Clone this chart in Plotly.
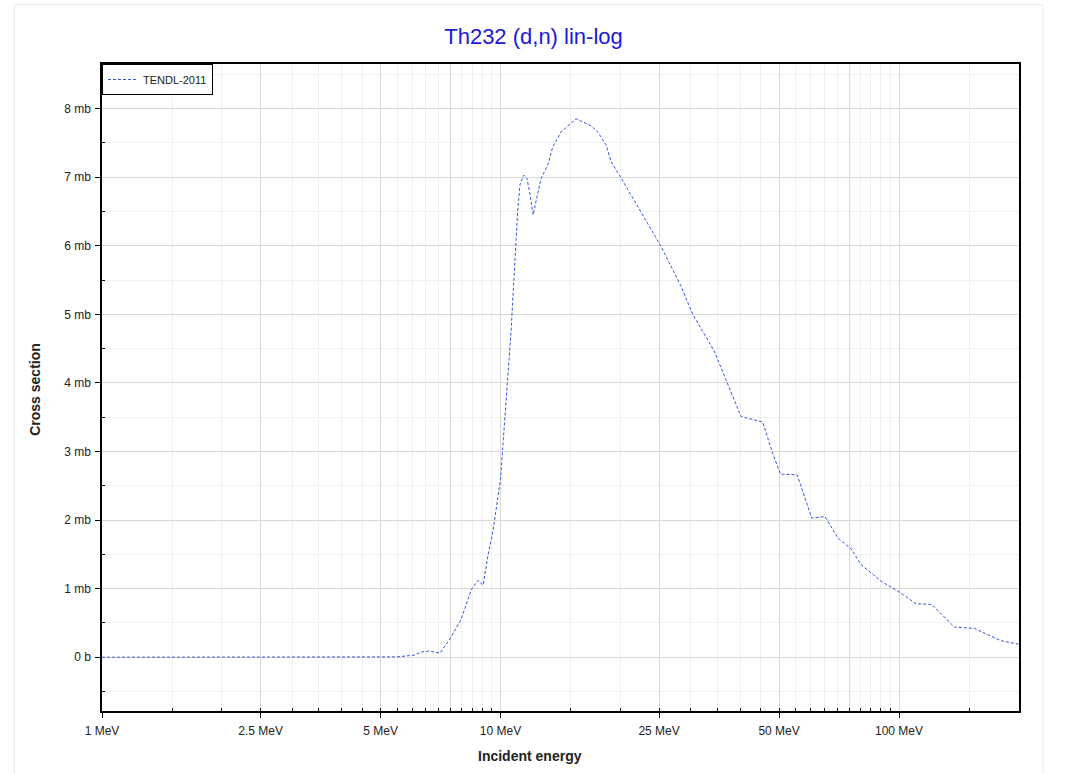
import plotly.graph_objects as go

# Data (incident energy in MeV, cross section in mb)
energy_mev = [1.0, 2.0, 3.0, 4.0, 5.0, 5.5, 6.07, 6.32, 6.62, 7.05, 7.51, 7.96, 8.44, 8.78,
              9.04, 9.30, 9.58, 10.0, 10.63, 10.94, 11.04, 11.19, 11.43, 11.65, 11.86,
              12.07, 12.28, 12.64, 13.14, 13.52, 14.19, 15.47, 16.87, 17.54, 18.40, 18.94,
              20.06, 21.63, 25.28, 28.38, 30.36, 34.34, 37.17, 40.13, 45.5, 48.2, 50.4,
              55.5, 60.4, 65.2, 70.2, 75.8, 80.3, 90.1, 100.8, 110.3, 120.8, 137.7, 154.5,
              180.3, 200.0]
xs_mb = [0, 0, 0, 0, 0, 0.005, 0.03, 0.075, 0.09, 0.06, 0.29, 0.55, 0.98, 1.12,
         1.05, 1.48, 1.85, 2.6, 4.76, 6.02, 6.5, 6.89, 7.03, 6.98, 6.75,
         6.45, 6.65, 6.98, 7.18, 7.44, 7.66, 7.85, 7.75, 7.66, 7.47, 7.23,
         6.99, 6.67, 5.99, 5.41, 5.0, 4.47, 3.99, 3.51, 3.43, 2.97, 2.67,
         2.66, 2.03, 2.05, 1.74, 1.58, 1.35, 1.11, 0.94, 0.78, 0.77, 0.44, 0.42,
         0.24, 0.19]

series_name = "TENDL-2011"

x_major_vals = [1, 2.5, 5, 7.5, 10, 25, 50, 75, 100]
x_major_text = ["1 MeV", "2.5 MeV", "5 MeV", "", "10 MeV", "25 MeV", "50 MeV", "", "100 MeV"]
x_minor_vals = ([1 + 0.5 * i for i in range(1, 18)] +
                [10 + 5 * i for i in range(1, 18)] + [150, 200])

y_major_vals = [0, 1, 2, 3, 4, 5, 6, 7, 8]
y_major_text = ["0 b", "1 mb", "2 mb", "3 mb", "4 mb", "5 mb", "6 mb", "7 mb", "8 mb"]
y_minor_vals = [-0.5, 0.5, 1.5, 2.5, 3.5, 4.5, 5.5, 6.5, 7.5, 8.5]

fig = go.Figure()
fig.add_trace(go.Scatter(
    x=energy_mev, y=xs_mb, mode="lines", name=series_name,
    line=dict(color="#3355e0", width=1, dash="3px,2px"),
))

font_family = "Liberation Sans, Arial, sans-serif"

fig.update_layout(
    width=1067, height=774,
    paper_bgcolor="white", plot_bgcolor="white",
    margin=dict(l=102, r=48, t=64, b=63),
    title=dict(text="Th232 (d,n) lin-log", x=0.5, xanchor="center", y=0.953, yanchor="middle",
               font=dict(family=font_family, size=22, color="#1a1ad6")),
    font=dict(family=font_family, size=12, color="#222"),
    showlegend=True,
    legend=dict(x=0, y=1, xanchor="left", yanchor="top", bgcolor="white",
                bordercolor="black", borderwidth=1,
                font=dict(family=font_family, size=11, color="#222"),
                itemwidth=30, tracegroupgap=0),
    xaxis=dict(
        type="log", range=[0, 2.30103],
        tickmode="array", tickvals=x_major_vals, ticktext=x_major_text,
        ticks="outside", ticklen=5, tickcolor="black", ticklabelstandoff=3,
        showgrid=True, gridcolor="#d8d8d8", gridwidth=1,
        showline=True, linecolor="black", linewidth=1.5, mirror=True,
        zeroline=False,
        tickfont=dict(size=12, color="#222"),
        minor=dict(tickmode="array", tickvals=x_minor_vals, ticks="inside", ticklen=3,
                   tickcolor="black", showgrid=True, gridcolor="#f0f0f0", gridwidth=1),
    ),
    yaxis=dict(
        range=[-0.784, 8.65],
        tickmode="array", tickvals=y_major_vals, ticktext=y_major_text,
        ticks="outside", ticklen=5, tickcolor="black", ticklabelstandoff=2,
        showgrid=True, gridcolor="#d8d8d8", gridwidth=1,
        showline=True, linecolor="black", linewidth=1.5, mirror=True,
        zeroline=False,
        tickfont=dict(size=12, color="#222"),
        minor=dict(tickmode="array", tickvals=y_minor_vals, ticks="inside", ticklen=3,
                   tickcolor="black", showgrid=True, gridcolor="#f0f0f0", gridwidth=1),
    ),
    annotations=[
        dict(text="<b>Incident energy</b>", xref="paper", yref="paper",
             x=0.467, y=-0.0703, xanchor="center", yanchor="middle", showarrow=False,
             font=dict(family=font_family, size=14, color="#222")),
        dict(text="<b>Cross section</b>", xref="paper", yref="paper", textangle=-90,
             x=-0.0727, y=0.497, xanchor="center", yanchor="middle", showarrow=False,
             font=dict(family=font_family, size=14, color="#222")),
    ],
    shapes=[
        dict(type="rect", xref="paper", yref="paper", x0=-0.0956, x1=1.0262,
             y0=-0.2, y1=1.0916, line=dict(color="#ececec", width=1), layer="below"),
    ],
)

fig.write_html("out.html", config={"displayModeBar": False},
               post_script="document.body.style.margin='0';document.body.style.overflow='hidden';")
